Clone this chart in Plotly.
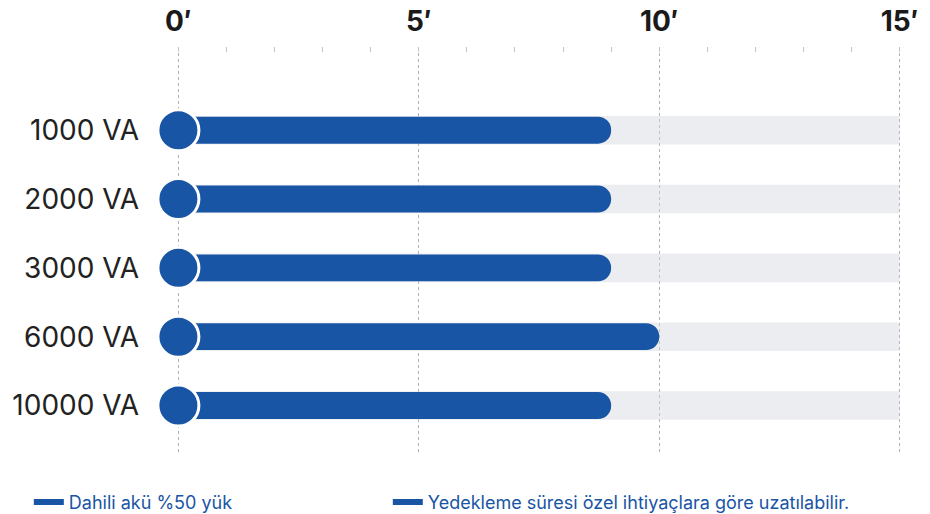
import plotly.graph_objects as go

categories = ["1000 VA", "2000 VA", "3000 VA", "6000 VA", "10000 VA"]
runtime_min = [9, 9, 9, 10, 9]
max_runtime = [15, 15, 15, 15, 15]
start_vals = [0, 0, 0, 0, 0]
tick_vals = [0, 5, 10, 15]
tick_text = ["0′", "5′", "10′", "15′"]
legend_labels = ["Dahili akü %50 yük", "Yedekleme süresi özel ihtiyaçlara göre uzatılabilir."]

BLUE = "#1955A5"
Y_RANGE = [4.719, -1.209]

fig = go.Figure()
fig.add_trace(go.Bar(
    y=categories, x=max_runtime, orientation="h", width=0.415, yaxis="y",
    marker=dict(color="rgba(212,216,222,0.45)", line=dict(width=0), cornerradius=0),
    showlegend=False, hoverinfo="skip"))
fig.add_trace(go.Bar(
    y=categories, x=runtime_min, orientation="h", width=0.39, yaxis="y2",
    marker=dict(color=BLUE, line=dict(width=0), cornerradius="50%"),
    showlegend=False))
fig.add_trace(go.Scatter(
    y=categories, x=start_vals, mode="markers", cliponaxis=False, yaxis="y2",
    marker=dict(size=41, color=BLUE, line=dict(color="white", width=3)),
    showlegend=False, hoverinfo="skip"))
legend_names = ["legend", "legend2"]
for lab, lg in zip(legend_labels, legend_names):
    fig.add_trace(go.Scatter(
        x=[None], y=[None], mode="lines", name=lab, legend=lg,
        line=dict(color=BLUE, width=6)))

legend_common = dict(
    orientation="h", xref="container", yref="container",
    xanchor="left", yanchor="middle",
    font=dict(size=18, color=BLUE, family="Inter, Roboto, sans-serif"),
    itemwidth=30, bgcolor="rgba(0,0,0,0)",
)

fig.update_layout(
    width=930, height=514,
    margin=dict(l=176, r=28, t=47, b=59),
    paper_bgcolor="white", plot_bgcolor="white",
    barmode="group",
    font=dict(family="Inter, Roboto, sans-serif"),
    xaxis=dict(
        side="top", range=[-0.05, 15.05], tickvals=tick_vals, ticktext=tick_text,
        tickfont=dict(size=28, color="#1a1a1a", family="Liberation Sans Narrow, Inter, sans-serif", weight="bold"),
        ticks="", showline=False, zeroline=False, automargin=False,
        showgrid=True, gridcolor="#b0b0b0", griddash="dot", gridwidth=1,
        ticklabelstandoff=9,
        minor=dict(dtick=1, tick0=0, ticks="inside", ticklen=5, tickcolor="#c4c4c4", tickwidth=1, showgrid=False),
    ),
    yaxis=dict(
        categoryorder="array", categoryarray=categories, automargin=False,
        range=Y_RANGE, showgrid=False, zeroline=False, showline=False,
        ticks="", tickfont=dict(size=28, color="#222222"),
        ticklabelstandoff=36,
    ),
    yaxis2=dict(
        overlaying="y", matches="y", categoryorder="array", categoryarray=categories,
        automargin=False, range=Y_RANGE, showgrid=False, zeroline=False,
        showline=False, showticklabels=False, ticks="",
    ),
    legend=dict(x=0.031, y=0.023, **legend_common),
    legend2=dict(x=0.417, y=0.023, **legend_common),
)

fig.write_html("out.html", config={"displayModeBar": False},
               post_script="document.body.style.margin='0';")
